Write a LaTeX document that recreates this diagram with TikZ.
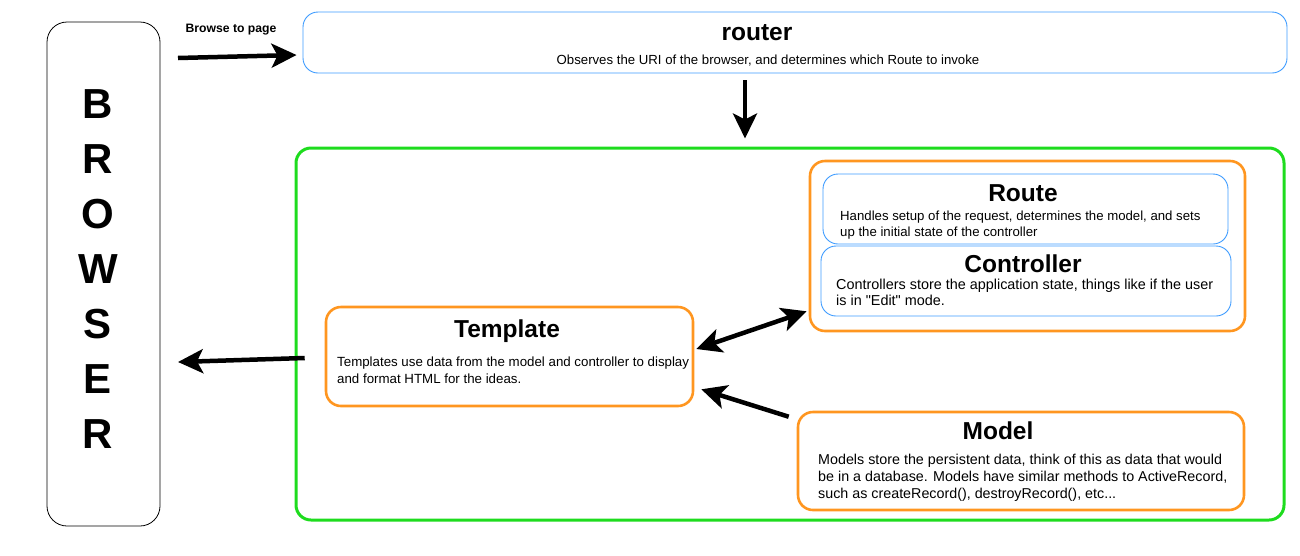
\documentclass[tikz,border=0pt]{standalone}
\usepackage{fontspec}
\setmainfont{Liberation Sans}[Ligatures=TeXOff]
\usepackage{tikz}
\usetikzlibrary{arrows.meta}

\definecolor{routerblue}{HTML}{3D9BFF}
\definecolor{appgreen}{HTML}{1EDC1E}
\definecolor{mvcorange}{HTML}{FF9620}

\tikzset{
  box/.style={draw, rounded corners=15pt, inner sep=0pt},
  bluebox/.style={box, draw=routerblue, line width=0.9pt},
  orangebox/.style={box, draw=mvcorange, line width=2.6pt},
  bigtip/.tip={Stealth[length=25pt,width=24pt,inset=6pt]},
  bigarrow/.style={line width=4.5pt, -bigtip},
  boxtitle/.style={font=\bfseries\fontsize{24.5}{28}\selectfont, inner sep=0pt},
  boxtext/.style={align=left, anchor=north west, inner sep=0pt},
  letter/.style={font=\bfseries\fontsize{42}{42}\selectfont, inner sep=0pt}
}

\begin{document}
\begin{tikzpicture}[x=1pt,y=-1pt]
\useasboundingbox (0,0) rectangle (1300,555);
\node[box, draw=black, line width=0.8pt, rounded corners=20pt, minimum width=113pt, minimum height=504pt] (browser) at (103.5,274) {}; % Browser
\foreach \ch [count=\i from 0] in {B,R,O,W,S,E,R}
  \node[letter] (letter\i) at (98,104+55*\i) {\ch}; % Browser.letters
\node[bluebox, minimum width=984pt, minimum height=61pt] (router) at (795,42.5) {}; % Router
\node[boxtitle] (routertitle) at (757,33) {router};
\node[font=\fontsize{13.2}{16}\selectfont, inner sep=0pt] (routertext) at (768,61) {Observes the URI of the browser, and determines which Route to invoke};
\node[font=\bfseries\fontsize{12.2}{14}\selectfont, inner sep=0pt] (browselabel) at (231,30) {Browse to page};
\node[box, draw=appgreen, line width=3pt, minimum width=988pt, minimum height=372pt] (app) at (790,334) {}; % App
\node[orangebox, minimum width=435pt, minimum height=170pt] (group) at (1027.5,246) {}; % Route+Controller
\node[bluebox, minimum width=405pt, minimum height=70pt] (route) at (1025.5,209) {}; % Route
\node[boxtitle] (routetitle) at (1023,193) {Route};
\node[boxtext, font=\fontsize{13.2}{16}\selectfont] (routetext) at (840,210.3) {Handles setup of the request, determines the model, and sets\\up the initial state of the controller};
\node[bluebox, minimum width=410pt, minimum height=70pt] (controller) at (1026,281) {}; % Controller
\node[boxtitle] (controllertitle) at (1023,264) {Controller};
\node[boxtext, font=\fontsize{14.4}{16}\selectfont] (controllertext) at (836,278.8) {Controllers store the application state, things like if the user\\is in "Edit" mode.};
\node[orangebox, minimum width=367pt, minimum height=99pt] (template) at (509.5,356.5) {}; % Template
\node[boxtitle] (templatetitle) at (507,331) {Template};
\node[boxtext, font=\fontsize{13.3}{17}\selectfont] (templatetext) at (337,356.3) {Templates use data from the model and controller to display\\and format HTML for the ideas.};
\node[orangebox, minimum width=446pt, minimum height=98pt] (model) at (1021,461) {}; % Model
\node[boxtitle] (modeltitle) at (998,431) {Model};
\node[boxtext, font=\fontsize{14.3}{17}\selectfont] (modeltext) at (818,453.8) {Models store the persistent data, think of this as data that would\\be in a database. Models have similar methods to ActiveRecord,\\such as createRecord(), destroyRecord(), etc...};
\coordinate (browsestart) at (178,58);
\coordinate (backhead) at (178,362);
\coordinate (downx) at (745,0);
\draw[bigarrow] (browsestart) -- ([xshift=-6pt,yshift=-12.5pt]router.west); % browse
\draw[bigarrow, shorten <=7pt, shorten >=8pt] (router.south -| downx) -- (app.north -| downx); % router to app
\draw[bigarrow] ([xshift=-20pt,yshift=-1.5pt]template.west) -- (backhead); % render
\draw[bigarrow, bigtip-bigtip] ([xshift=2pt,yshift=7.5pt]template.east) -- ([xshift=-2pt,yshift=21pt]group.south west); % controller
\draw[bigarrow] ([xshift=-8pt,yshift=-6pt]model.north west) -- ([xshift=7pt,yshift=18pt]template.south east); % model
\end{tikzpicture}
\end{document}
